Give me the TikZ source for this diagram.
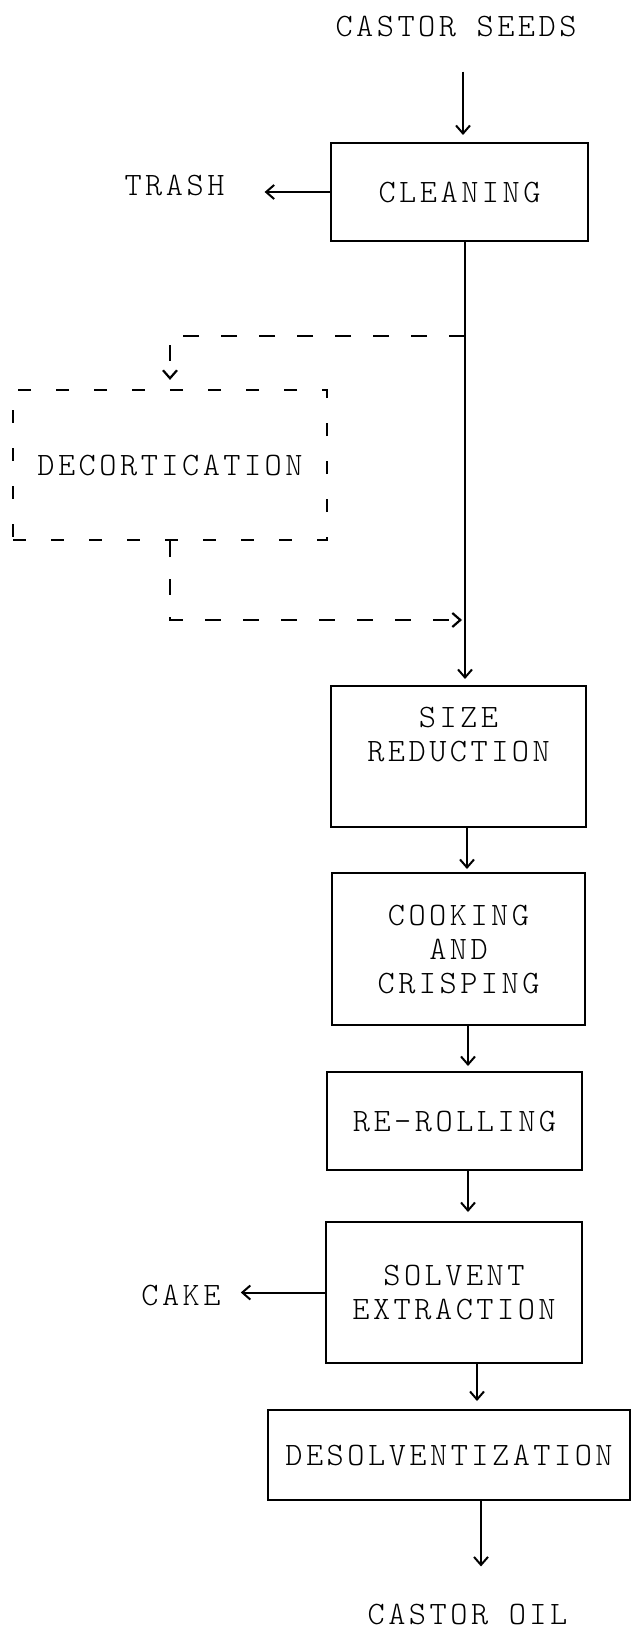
\documentclass[tikz,border=0pt]{standalone}
\usepackage{fontspec}
\usetikzlibrary{arrows.meta}
\newfontfamily\typewriter{lmmonolt10-regular.otf}[LetterSpace=10.7]

\tikzset{
  every node/.style={font=\typewriter\fontsize{32.7}{34}\selectfont},
  procbox/.style={draw, line width=2pt, align=center, inner sep=0pt},
  decbox/.style={procbox, line width=2.2pt, dash pattern=on 13pt off 25pt},
  flow/.style={->, line width=2pt},
  dashflow/.style={->, line width=2.2pt, dash pattern=on 16pt off 22pt},
  >={Straight Barb[length=8pt,width=14pt]}
}

\begin{document}
\begin{tikzpicture}[x=1pt,y=-1pt]
  \useasboundingbox (0,0) rectangle (633,1629);

  % process boxes
  \node[procbox, minimum width=257pt, minimum height=98pt] (clean) at (459.5,192) {CLEANING};
  \node[decbox, minimum width=314pt, minimum height=150pt] (decort) at (170,465) {DECORTICATION};
  \node[procbox, minimum width=255pt, minimum height=141pt] (size) at (458.5,756.5) {SIZE\\REDUCTION\\\strut};
  \node[procbox, minimum width=253pt, minimum height=152pt] (cook) at (458.5,949) {COOKING\\AND\\CRISPING};
  \node[procbox, minimum width=255pt, minimum height=98pt] (reroll) at (454.5,1121) {RE-ROLLING};
  \node[procbox, minimum width=256pt, minimum height=141pt] (solvent) at (454,1292.5) {SOLVENT\\EXTRACTION};
  \node[procbox, minimum width=362pt, minimum height=90pt] (desolv) at (449,1455) {DESOLVENTIZATION};

  % streams in and out
  \node[inner sep=0pt] (seeds) at (456,26) {CASTOR SEEDS};
  \node[inner sep=0pt] (trash) at (174.5,185) {TRASH};
  \node[inner sep=0pt] (cake) at (181,1295) {CAKE};
  \node[inner sep=0pt] (oil) at (467.5,1614) {CASTOR OIL};

  \coordinate (split) at (465,336);
  \coordinate (merge) at (462,620);

  \draw[flow, shorten <=35pt, shorten >=7pt] ([xshift=7pt]seeds.south) -- ([xshift=3.5pt]clean.north);
  \draw[flow, shorten >=40pt] (clean.west) -- (clean.west -| trash.east);
  \draw[flow, shorten >=6pt] ([xshift=5.5pt]clean.south) -- ([xshift=6.5pt]size.north);
  % optional decortication loop
  \draw[dashflow, shorten >=9pt] (split) -| (decort.north);
  \draw[dashflow] (decort.south) |- (merge);

  \draw[flow, shorten >=3pt] ([xshift=8.5pt]size.south) -- ([xshift=8.5pt]cook.north);
  \draw[flow, shorten >=5pt] ([xshift=9.5pt]cook.south) -- ([xshift=13.5pt]reroll.north);
  \draw[flow, shorten >=9pt] ([xshift=13.5pt]reroll.south) -- ([xshift=14pt]solvent.north);
  \draw[flow, shorten >=20pt] (solvent.west) -- (solvent.west -| cake.east);
  \draw[flow, shorten >=8pt] ([xshift=23pt]solvent.south) -- ([xshift=28pt]desolv.north);
  \draw[flow, shorten >=37pt] ([xshift=32pt]desolv.south) -- ([xshift=13.5pt]oil.north);
\end{tikzpicture}
\end{document}
